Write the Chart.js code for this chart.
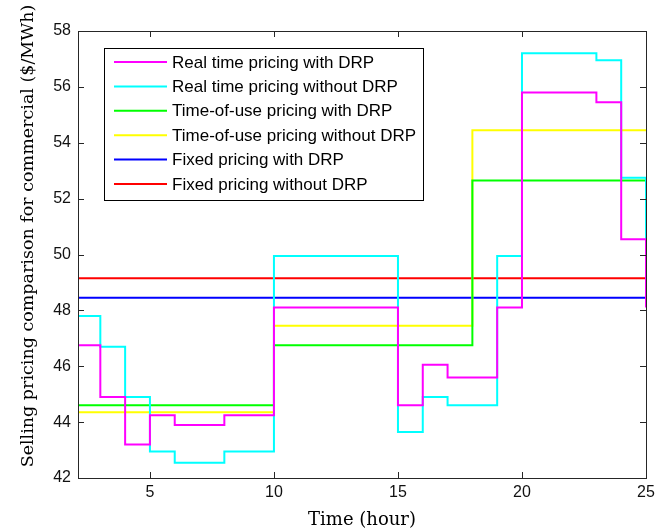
<!DOCTYPE html>
<html>
<head>
<meta charset="utf-8">
<script src="https://cdn.jsdelivr.net/npm/chart.js@4.4.0/dist/chart.umd.min.js"></script>
<style>
  html, body { margin: 0; padding: 0; background: #fff; }
</style>
</head>
<body>
<canvas id="priceChart" width="667" height="531"></canvas>
<script>
// hourly selling prices ($/MWh), each value holds until the next hour
const hours = [2, 3, 4, 5, 6, 7, 8, 9, 10, 11, 12, 13, 14, 15, 16, 17, 18, 19, 20, 21, 22, 23, 24, 25];
const rtpWithDrp = [46.75, 44.9, 43.2, 44.25, 43.9, 43.9, 44.25, 44.25, 48.1, 48.1, 48.1, 48.1, 48.1,
  44.6, 46.05, 45.6, 45.6, 48.1, 55.8, 55.8, 55.8, 55.45, 50.55, 48.1];
const rtpWithoutDrp = [47.8, 46.7, 44.9, 42.95, 42.55, 42.55, 42.95, 42.95, 49.95, 49.95, 49.95, 49.95, 49.95,
  43.65, 44.9, 44.6, 44.6, 49.95, 57.2, 57.2, 57.2, 56.95, 52.75, 49.95];
const touWithDrp = [44.6, 44.6, 44.6, 44.6, 44.6, 44.6, 44.6, 44.6, 46.75, 46.75, 46.75, 46.75, 46.75,
  46.75, 46.75, 46.75, 52.65, 52.65, 52.65, 52.65, 52.65, 52.65, 52.65, 52.65];
const touWithoutDrp = [44.35, 44.35, 44.35, 44.35, 44.35, 44.35, 44.35, 44.35, 47.45, 47.45, 47.45, 47.45, 47.45,
  47.45, 47.45, 47.45, 54.45, 54.45, 54.45, 54.45, 54.45, 54.45, 54.45, 54.45];
const fixedWithDrp = hours.map(() => 48.45);
const fixedWithoutDrp = hours.map(() => 49.15);

const seriesLabels = [
  'Real time pricing with DRP',
  'Real time pricing without DRP',
  'Time-of-use pricing with DRP',
  'Time-of-use pricing without DRP',
  'Fixed pricing with DRP',
  'Fixed pricing without DRP'
];
const seriesValues = [rtpWithDrp, rtpWithoutDrp, touWithDrp, touWithoutDrp, fixedWithDrp, fixedWithoutDrp];
const seriesColors = ['#ff00ff', '#00ffff', '#00ff00', '#ffff00', '#0000ff', '#ff0000'];

const xTicks = [5, 10, 15, 20, 25];
const yTicks = [42, 44, 46, 48, 50, 52, 54, 56, 58];

const serifFont = '"DejaVu Serif", "Liberation Serif", serif';
const sansFont = '"Liberation Sans", Arial, sans-serif';

// box around the axes with inward tick marks on all four sides
const axesBox = {
  id: 'axesBox',
  afterDatasetsDraw(chart) {
    const { ctx, chartArea: a, scales } = chart;
    const len = 6;
    ctx.save();
    ctx.strokeStyle = '#262626';
    ctx.lineWidth = 1;
    ctx.strokeRect(Math.round(a.left) + 0.5, Math.round(a.top) + 0.5,
      Math.round(a.right - a.left), Math.round(a.bottom - a.top));
    ctx.beginPath();
    xTicks.forEach(v => {
      const px = Math.round(scales.x.getPixelForValue(v)) + 0.5;
      ctx.moveTo(px, a.bottom); ctx.lineTo(px, a.bottom - len);
      ctx.moveTo(px, a.top); ctx.lineTo(px, a.top + len);
    });
    yTicks.forEach(v => {
      const py = Math.round(scales.y.getPixelForValue(v)) + 0.5;
      ctx.moveTo(a.left, py); ctx.lineTo(a.left + len, py);
      ctx.moveTo(a.right, py); ctx.lineTo(a.right - len, py);
    });
    ctx.stroke();
    ctx.restore();
  }
};

// vertical axis title, sitting a little above the middle of the axis
const yAxisTitle = {
  id: 'yAxisTitle',
  afterDraw(chart) {
    const ctx = chart.ctx;
    ctx.save();
    ctx.translate(28, 236);
    ctx.rotate(-Math.PI / 2);
    ctx.font = '17.5px ' + serifFont;
    ctx.fillStyle = '#000';
    ctx.textAlign = 'center';
    ctx.textBaseline = 'middle';
    ctx.fillText('Selling pricing comparison for commercial ($/MWh)', 0, 0);
    ctx.restore();
  }
};

// legend drawn inside the plot, top-left, in a framed white box
const insideLegend = {
  id: 'insideLegend',
  afterDraw(chart) {
    const ctx = chart.ctx;
    const box = { left: 104, top: 48, width: 319, height: 152 };
    ctx.save();
    ctx.fillStyle = '#fff';
    ctx.fillRect(box.left, box.top, box.width, box.height);
    ctx.strokeStyle = '#000';
    ctx.lineWidth = 1;
    ctx.strokeRect(box.left + 0.5, box.top + 0.5, box.width, box.height);
    ctx.font = '17px ' + sansFont;
    ctx.textBaseline = 'middle';
    chart.data.datasets.forEach((ds, i) => {
      const y = 62 + i * 24.4;
      ctx.strokeStyle = ds.borderColor;
      ctx.lineWidth = 2;
      ctx.beginPath();
      ctx.moveTo(114, y);
      ctx.lineTo(167, y);
      ctx.stroke();
      ctx.fillStyle = '#000';
      ctx.fillText(ds.label, 172, y + 1);
    });
    ctx.restore();
  }
};

new Chart(document.getElementById('priceChart'), {
  type: 'line',
  data: {
    datasets: seriesLabels.map((label, i) => ({
      label: label,
      data: hours.map((h, j) => ({ x: h, y: seriesValues[i][j] })),
      borderColor: seriesColors[i],
      backgroundColor: seriesColors[i],
      borderWidth: 2,
      stepped: 'before',
      pointRadius: 0,
      fill: false
    }))
  },
  options: {
    responsive: false,
    animation: false,
    layout: { padding: { top: 31, right: 21, left: 0, bottom: 0 } },
    plugins: {
      legend: { display: false },
      tooltip: { enabled: false }
    },
    scales: {
      x: {
        type: 'linear',
        min: 2.1,
        max: 25,
        afterBuildTicks: scale => { scale.ticks = xTicks.map(v => ({ value: v })); },
        afterFit: scale => { scale.height = 53; },
        grid: { display: false, drawTicks: false },
        border: { display: false },
        ticks: {
          color: '#111',
          padding: 5,
          font: { family: sansFont, size: 16 }
        },
        title: {
          display: true,
          text: 'Time (hour)',
          color: '#000',
          padding: { top: 0, bottom: 0 },
          font: { family: serifFont, size: 18 }
        }
      },
      y: {
        min: 42,
        max: 58,
        afterBuildTicks: scale => { scale.ticks = yTicks.map(v => ({ value: v })); },
        afterFit: scale => { scale.width = 78; },
        grid: { display: false, drawTicks: false },
        border: { display: false },
        ticks: {
          color: '#111',
          padding: 7,
          font: { family: sansFont, size: 16 }
        }
      }
    }
  },
  plugins: [axesBox, yAxisTitle, insideLegend]
});
</script>
</body>
</html>
